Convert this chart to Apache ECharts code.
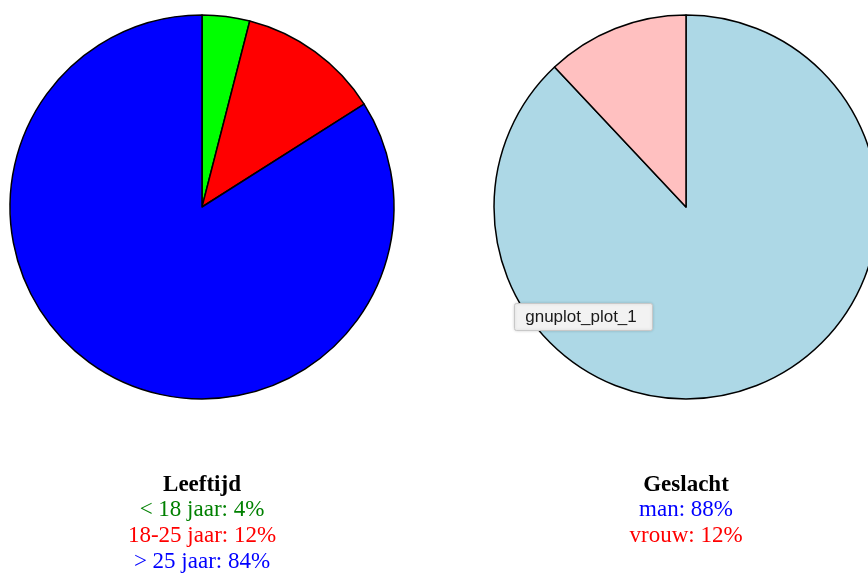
<!DOCTYPE html>
<html>
<head>
<meta charset="utf-8">
<script src="https://cdn.jsdelivr.net/npm/echarts@6/dist/echarts.min.js"></script>
<style>
  html, body { margin: 0; padding: 0; background: #fff; }
  #charts { width: 868px; height: 573px; }
</style>
</head>
<body>
<div id="charts"></div>
<script>
// Leeftijd (age) slices
var ageNames = ['< 18 jaar', '18-25 jaar', '> 25 jaar'];
var ageValues = [4, 12, 84];
var ageColors = ['#00ff00', '#ff0000', '#0000ff'];
var ageTextColors = ['#008000', '#ff0000', '#0000ff'];

// Geslacht (gender) slices
var sexNames = ['man', 'vrouw'];
var sexValues = [88, 12];
var sexColors = ['#add8e6', '#ffc0c0'];
var sexTextColors = ['#0000ff', '#ff0000'];

var myChart = echarts.init(document.getElementById('charts'));

function pieSeries(names, values, colors, cx) {
  return {
    type: 'pie',
    center: [cx, 207],
    radius: [0, 192],
    startAngle: 90,
    clockwise: true,
    silent: true,
    z: 1,
    label: { show: false },
    labelLine: { show: false },
    itemStyle: { borderColor: '#000', borderWidth: 1.5 },
    data: names.map(function (n, i) {
      return { name: n, value: values[i], itemStyle: { color: colors[i] } };
    })
  };
}

function legendText(title, names, values, colors, cx) {
  var items = [{
    type: 'text', x: cx, y: 485, z: 10,
    style: { text: title, fill: '#000', font: 'bold 23px "Liberation Serif", serif', align: 'center', verticalAlign: 'middle' }
  }];
  names.forEach(function (n, i) {
    items.push({
      type: 'text', x: cx, y: 510 + i * 26, z: 10,
      style: { text: n + ': ' + values[i] + '%', fill: colors[i], font: '23px "Liberation Serif", serif', align: 'center', verticalAlign: 'middle' }
    });
  });
  return items;
}

var graphics = []
  .concat(legendText('Leeftijd', ageNames, ageValues, ageTextColors, 202))
  .concat(legendText('Geslacht', sexNames, sexValues, sexTextColors, 686));

// hover tooltip box as captured in the screenshot
graphics.push({
  type: 'rect', z: 100, shape: { x: 514.5, y: 303.5, width: 138, height: 27, r: 2 },
  style: { fill: '#f2f2f2', stroke: '#c8c8c8', lineWidth: 1, shadowBlur: 3, shadowColor: 'rgba(0,0,0,0.15)' }
});
graphics.push({
  type: 'text', z: 101, x: 581, y: 317,
  style: { text: 'gnuplot_plot_1', fill: '#1a1a1a', font: '17px "Liberation Sans", Arial, sans-serif', align: 'center', verticalAlign: 'middle' }
});

myChart.setOption({
  animation: false,
  backgroundColor: '#fff',
  series: [
    pieSeries(ageNames, ageValues, ageColors, 202),
    pieSeries(sexNames, sexValues, sexColors, 686)
  ],
  graphic: graphics
});
</script>
</body>
</html>
